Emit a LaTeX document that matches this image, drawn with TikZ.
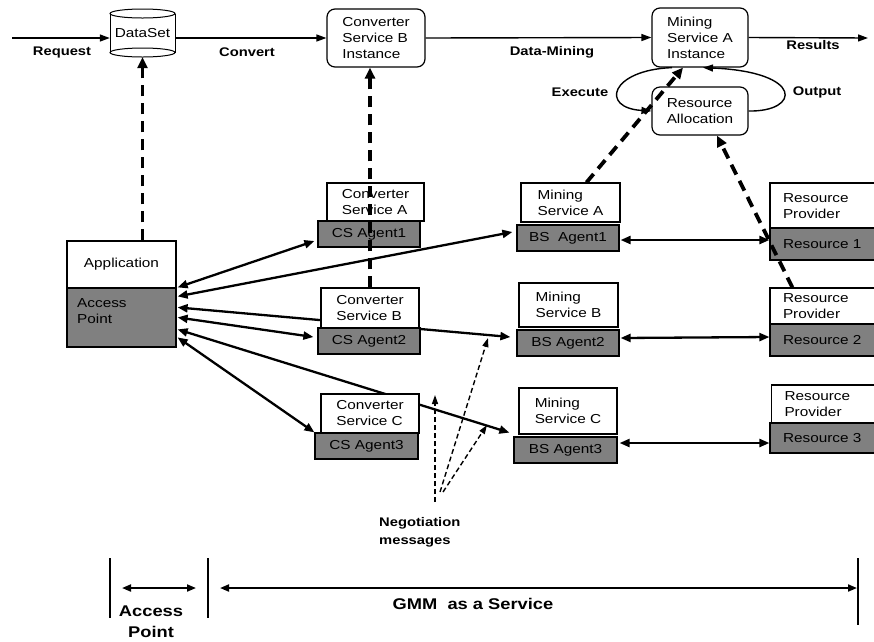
\documentclass[tikz,border=0pt]{standalone}
\usepackage{fontspec}
\setmainfont{Liberation Sans}[FakeStretch=1.18]
\usetikzlibrary{arrows.meta,calc,backgrounds}
\definecolor{agray}{RGB}{128,128,128}
\newcommand\bxfont{\fontsize{13}{16}\selectfont}
\newcommand\lbfont{\fontsize{12.5}{18}\selectfont\bfseries}
\newcommand\bgfont{\fontsize{15.5}{21}\selectfont\bfseries}
\begin{document}
\begin{tikzpicture}[x=1pt,y=-1pt,
  box/.style 2 args={draw,line width=1.2pt,minimum width=#1,minimum height=#2,inner sep=0pt,align=left,font=\bxfont},
  wb/.style={fill=white},
  gb/.style={fill=agray},
  rb/.style={rounded corners=8pt},
  rbox/.style={draw,line width=1.2pt,text width=90pt,inner xsep=13pt,inner ysep=0pt,align=left,font=\bxfont},
  lab/.style={font=\lbfont,inner sep=0pt},
  thin/.style={line width=1.4pt,-{Triangle[length=10pt,width=7pt]}},
  dbl/.style={line width=2.3pt,{Triangle[length=10pt,width=8pt]}-{Triangle[length=10pt,width=8pt]}},
  dsh/.style={line width=3.8pt,dash pattern=on 11pt off 7pt,-{Triangle[length=11pt,width=10pt]}},
  neg/.style={line width=1.4pt,dash pattern=on 5pt off 3pt,-{Triangle[length=9pt,width=6pt]}},
  bot/.style={line width=1.9pt,{Triangle[length=9pt,width=7pt]}-{Triangle[length=9pt,width=7pt]}}
]
\useasboundingbox (0,0) rectangle (874,641);

% DataSet cylinder
\draw[line width=1pt] (142.5,13.5) ellipse [x radius=32.5, y radius=4.5];
\draw[line width=1pt] (110,13.5) -- (110,52.5) (175,13.5) -- (175,52.5);
\draw[line width=1pt] (142.5,52.5) ellipse [x radius=32.5, y radius=4.5];
\node[minimum width=65pt,minimum height=48pt,inner sep=0pt,font=\bxfont] (ds) at (142.5,33) {DataSet};

% top row
\node[box={98pt}{58pt},rb] (cbi) at (376,38) {Converter\\Service B\\Instance};
\node[box={96pt}{59pt},rb] (mai) at (700,37.5) {Mining\\Service A\\Instance};
\node[box={96pt}{48pt},rb,wb] (ra) at (700,111) {Resource\\Allocation};

% application / access point
\node[box={109pt}{47pt},wb] (app) at (121.5,264.5) {\raisebox{-5pt}{Application}};
\node[box={109pt}{59pt},gb] (ap) at (121.5,317.5) {};
\node[anchor=north west,inner sep=0pt,align=left,font=\bxfont] (aptxt) at (77,298) {Access\\Point};

% converter services
\node[box={97pt}{38pt},wb] (csa) at (375.5,202) {Converter\\Service A};
\node[box={102pt}{26pt},gb] (cs1) at (369,234) {CS Agent1};
\node[box={98pt}{40pt},wb] (csb) at (370,308) {Converter\\Service B};
\node[box={102pt}{26pt},gb] (cs2) at (369,341) {CS Agent2};
\node[box={98pt}{39pt},wb] (csc) at (370,413.5) {Converter\\Service C};
\node[box={103pt}{26pt},gb] (cs3) at (366.5,446) {CS Agent3};

% mining services
\node[box={99pt}{39pt},wb] (msa) at (570.5,202.5) {Mining\\Service A};
\node[box={102pt}{26pt},gb] (bs1) at (568,238) {BS~ Agent1};
\node[box={99pt}{44pt},wb] (msb) at (568.5,305) {Mining\\Service B};
\node[box={102pt}{26pt},gb] (bs2) at (568,343) {BS Agent2};
\node[box={98pt}{46pt},wb] (msc) at (568,411) {Mining\\Service C};
\node[box={103pt}{26pt},gb] (bs3) at (565.5,450) {BS Agent3};

% resource providers
\node[rbox,wb,minimum height=46pt] (rp1) at (828,206) {Resource\\Provider};
\node[rbox,gb,minimum height=32pt] (r1) at (828,244) {Resource 1};
\node[rbox,wb,minimum height=37pt] (rp2) at (828,306.5) {Resource\\Provider};
\node[rbox,gb,minimum height=32pt] (r2) at (828,340) {Resource 2};
\node[rbox,wb,minimum height=38pt] (rp3) at (829.5,404) {Resource\\Provider};
\node[rbox,gb,minimum height=30pt] (r3) at (828,438) {Resource 3};

% connectors behind the boxes
\begin{scope}[on background layer]
\draw[dbl] ($(ap.north east)+(1,0)$) -- ($(cs1.west)+(-3,7)$);
\draw[dbl] ($(ap.north east)+(1,9)$) -- ($(bs1.west)+(-4,-6)$);
\draw[dbl] ($(ap.north east)+(1,20)$) -- ($(bs2.west)+(-6,-6)$);
\draw[dbl] ($(ap.north east)+(1,30)$) -- ($(cs2.west)+(-4,-4)$);
\draw[dbl] ($(ap.north east)+(1,42)$) -- ($(msc.south west)+(-9,-2)$);
\draw[dbl] ($(ap.north east)+(1,50)$) -- ($(cs3.north west)+(0,0)$);
\end{scope}

\draw[dbl] ($(bs1.east)+(1,2)$) -- ($(r1.west)+(0,-4)$);
\draw[dbl] ($(bs2.east)+(1,-5)$) -- ($(r2.west)+(0,-3)$);
\draw[dbl] ($(bs3.east)+(2,-7)$) -- ($(r3.west)+(0,5)$);

% top flow
\coordinate (rq) at (12,38);
\coordinate (res) at (868,38);
\draw[thin] (rq) -- (rq -| ds.west);
\draw[thin] (ds.east |- cbi.west) -- (cbi.west);
\draw[thin] (cbi.east) -- (mai.west);
\draw[thin] (mai.east) -- (res);
\node[lab] (lreq) at (62,52) {Request};
\node[lab] (lconv) at (247,52) {Convert};
\node[lab] (ldm) at (552,52) {Data-Mining};
\node[lab] (lres) at (813,45) {Results};
\node[lab] (lexe) at (580,92) {Execute};
\node[lab] (lout) at (817,92) {Output};

% loops
\draw[thin] ($(mai.south)+(-28,0)$) .. controls (610,70) and (600,108) .. (ra.west);
\draw[thin] (ra.east) .. controls (800,112) and (805,72) .. ($(mai.south)+(3,0)$);

% dashed thick
\draw[dsh] (app.north -| ds.south) -- (ds.south);
\draw[dsh] (csb.north) -- (csb.north |- cbi.south);
\draw[dsh] ($(msa.north)+(16,0)$) -- ($(mai.south)+(-17,0)$);
\draw[dsh] ($(rp2.north west)+(23,0)$) -- ($(ra.south)+(17,0)$);

% negotiation
\coordinate (n1s) at (435,502); \coordinate (n1e) at (435,395);
\coordinate (n2s) at (440,492); \coordinate (n2e) at (488,338);
\coordinate (n3s) at (443,492); \coordinate (n3e) at (487,425);
\draw[neg] (n1s) -- (n1e);
\draw[neg] (n2s) -- (n2e);
\draw[neg] (n3s) -- (n3e);
\node[lab,anchor=west,align=left] (negl) at (379,532) {Negotiation\\messages};

% bottom scale
\coordinate (v1t) at (110,558); \coordinate (v1b) at (110,618);
\coordinate (v2t) at (208,558); \coordinate (v2b) at (208,618);
\coordinate (v3t) at (858,558); \coordinate (v3b) at (858,625);
\draw[line width=1.2pt] (v1t) -- (v1b) (v2t) -- (v2b) (v3t) -- (v3b);
\coordinate (a1l) at (122,588); \coordinate (a1r) at (196,588);
\coordinate (a2l) at (220,588); \coordinate (a2r) at (857,588);
\draw[bot] (a1l) -- (a1r);
\draw[bot] (a2l) -- (a2r);
\node[inner sep=0pt,align=center,font=\bgfont] (apl) at (151,622) {Access\\Point};
\node[inner sep=0pt,font=\bgfont] (gmm) at (473,604) {GMM\ \ as a Service};
\end{tikzpicture}
\end{document}
